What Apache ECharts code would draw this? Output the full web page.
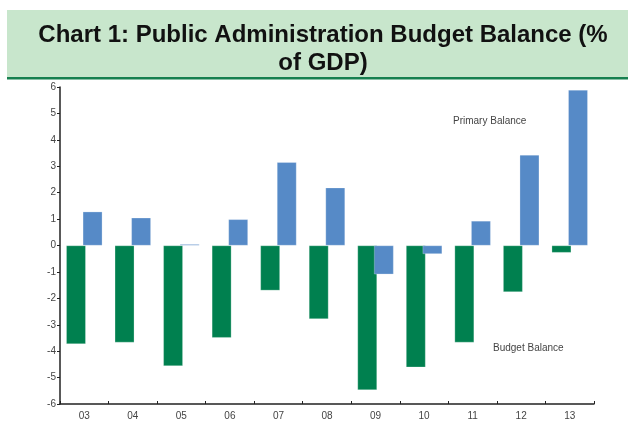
<!DOCTYPE html>
<html>
<head>
<meta charset="utf-8">
<script src="https://cdn.jsdelivr.net/npm/echarts@6/dist/echarts.min.js"></script>
<style>html,body{margin:0;padding:0;background:#fff;}#c{width:628px;height:432px;}</style>
</head>
<body>
<div id="c"></div>
<script>
const categories = ['03','04','05','06','07','08','09','10','11','12','13'];
const budgetBalance = [-3.73,-3.67,-4.56,-3.49,-1.70,-2.78,-5.47,-4.61,-3.67,-1.76,-0.27];
const primaryBalance = [1.28,1.05,0.05,0.99,3.15,2.19,-1.09,-0.32,0.93,3.43,5.89];
const yTicks = {min:-6, max:6, interval:1};
const titleText = 'Chart 1: Public Administration Budget Balance (%\nof GDP)';

const chart = echarts.init(document.getElementById('c'), null, {renderer:'canvas'});
chart.setOption({
  animation:false,
  backgroundColor:'#ffffff',
  title:{
    text:titleText,
    left:318, top:16, textAlign:'center',
    textStyle:{fontFamily:'Liberation Sans, Arial', fontWeight:'bold', fontSize:24, color:'#111', lineHeight:28}
  },
  graphic:[
    {type:'rect', z:-1, shape:{x:7,y:10,width:621,height:67}, style:{fill:'#c8e6cc'}},
    {type:'rect', z:-1, shape:{x:7,y:77,width:621,height:2.5}, style:{fill:'#17804f'}},
    {type:'text', left:453, top:116, style:{text:'Primary Balance', fontFamily:'Liberation Sans, Arial', fontSize:10, fill:'#444'}},
    {type:'text', left:493, top:343, style:{text:'Budget Balance', fontFamily:'Liberation Sans, Arial', fontSize:10, fill:'#444'}}
  ],
  grid:{left:60, right:34, top:87, bottom:28, containLabel:false},
  xAxis:{
    type:'category', data:categories, boundaryGap:true,
    axisLine:{onZero:false, lineStyle:{color:'#222', width:1.5}},
    axisTick:{show:true, inside:true, length:3, lineStyle:{color:'#222'}},
    axisLabel:{color:'#444', fontFamily:'Liberation Sans, Arial', fontSize:10, margin:7},
    splitLine:{show:false}
  },
  yAxis:{
    type:'value', min:yTicks.min, max:yTicks.max, interval:yTicks.interval,
    axisLine:{show:true, lineStyle:{color:'#222', width:1.5}},
    axisTick:{show:true, length:3, lineStyle:{color:'#222'}},
    axisLabel:{color:'#444', fontFamily:'Liberation Sans, Arial', fontSize:10, margin:4},
    splitLine:{show:false}
  },
  series:[
    {name:'Budget Balance', type:'bar', data:budgetBalance, barWidth:19.5, barGap:'-15%',
     itemStyle:{color:'#00804f', borderColor:'rgba(255,255,255,0.5)', borderWidth:0.5}},
    {name:'Primary Balance', type:'bar', data:primaryBalance, barWidth:19.5, barGap:'-15%',
     itemStyle:{color:'#568ac7', borderColor:'rgba(255,255,255,0.5)', borderWidth:0.5}}
  ]
});
</script>
</body>
</html>
